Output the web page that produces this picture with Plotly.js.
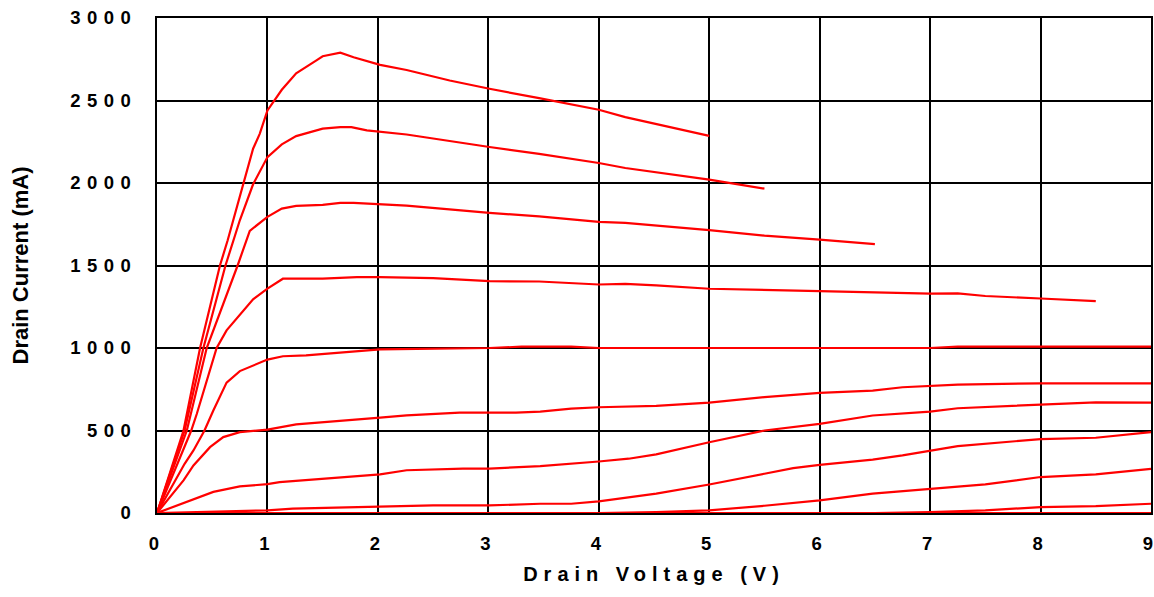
<!DOCTYPE html>
<html>
<head>
<meta charset="utf-8">
<script src="https://cdn.plot.ly/plotly-3.0.1.min.js"></script>
<style>
  html, body { margin: 0; padding: 0; background: #fff; }
  #chart { width: 1154px; height: 597px; }
  g.ytick text { letter-spacing: 6.5px; }
  text.xtitle { letter-spacing: 6px; }
</style>
</head>
<body>
<div id="chart"></div>
<script>
// Drain voltage (V) and drain current (mA) for each curve
const vd1 = [0, 0.24, 0.39, 0.57, 0.64, 0.69, 0.78, 0.87, 0.93, 1.0, 1.13, 1.26, 1.44, 1.5, 1.66, 1.78, 2.02, 2.26, 2.65, 3.01, 3.46, 4.0, 4.24, 5.0];
const id1 = [0, 500, 1000, 1500, 1653, 1774, 1996, 2208, 2298, 2440, 2565, 2665, 2742, 2768, 2790, 2762, 2716, 2685, 2621, 2571, 2514, 2444, 2399, 2286];

const vd2 = [0, 0.25, 0.42, 0.62, 0.75, 0.87, 1.0, 1.13, 1.26, 1.5, 1.66, 1.76, 1.9, 2.02, 2.26, 3.01, 3.46, 4.0, 4.24, 5.0, 5.5];
const id2 = [0, 500, 1000, 1500, 1774, 1992, 2157, 2234, 2284, 2329, 2339, 2339, 2319, 2311, 2294, 2218, 2177, 2121, 2091, 2020, 1966];

const vd3 = [0, 0.27, 0.45, 0.73, 0.84, 1.0, 1.13, 1.26, 1.5, 1.66, 1.78, 2.02, 2.26, 3.01, 3.46, 4.0, 4.24, 5.0, 5.5, 6.0, 6.5];
const id3 = [0, 500, 1000, 1500, 1710, 1795, 1845, 1861, 1867, 1879, 1879, 1869, 1863, 1819, 1798, 1764, 1758, 1714, 1681, 1657, 1629];

const vd4 = [0, 0.31, 0.36, 0.54, 0.63, 0.75, 0.81, 0.87, 1.0, 1.14, 1.5, 1.81, 2.02, 2.5, 3.01, 3.46, 4.0, 4.24, 4.52, 5.0, 6.0, 6.5, 7.0, 7.25, 7.5, 8.0, 8.5];
const id4 = [0, 500, 600, 1000, 1107, 1200, 1250, 1295, 1360, 1420, 1420, 1430, 1430, 1424, 1405, 1403, 1385, 1389, 1379, 1359, 1345, 1339, 1329, 1331, 1315, 1300, 1284];

const vd5 = [0, 0.25, 0.33, 0.43, 0.51, 0.63, 0.75, 0.87, 1.0, 1.14, 1.35, 2.02, 3.01, 3.3, 3.75, 4.0, 5.0, 6.0, 7.0, 7.25, 8.0, 9.0];
const id5 = [0, 298, 379, 500, 621, 790, 860, 895, 930, 950, 955, 992, 1000, 1008, 1008, 1000, 1000, 1000, 1000, 1008, 1008, 1008];

const vd6 = [0, 0.12, 0.24, 0.33, 0.40, 0.48, 0.60, 0.75, 1.0, 1.26, 2.02, 2.26, 2.74, 3.25, 3.47, 3.75, 4.0, 4.52, 5.0, 5.5, 6.0, 6.48, 6.75, 7.0, 7.25, 8.0, 9.0];
const id6 = [0, 97, 198, 288, 339, 399, 460, 490, 505, 537, 578, 592, 608, 608, 615, 633, 641, 649, 669, 702, 728, 742, 762, 770, 778, 786, 786];

const vd7 = [0, 0.24, 0.51, 0.75, 1.0, 1.11, 2.02, 2.26, 2.77, 3.01, 3.47, 4.0, 4.27, 4.52, 5.0, 5.5, 6.0, 6.48, 7.0, 7.25, 8.0, 8.5, 9.0];
const id7 = [0, 60, 128, 161, 175, 187, 234, 259, 269, 269, 284, 312, 329, 355, 429, 500, 540, 591, 615, 635, 657, 671, 669];

const vd8 = [0, 1.0, 1.23, 2.02, 2.5, 3.01, 3.47, 3.75, 4.0, 4.52, 5.0, 5.5, 5.76, 6.0, 6.48, 6.75, 7.0, 7.25, 8.0, 8.5, 9.0];
const id8 = [0, 16, 26, 40, 46, 46, 56, 56, 71, 117, 173, 238, 272, 292, 323, 349, 379, 405, 448, 456, 490];

const vd9 = [0, 4.0, 4.52, 5.0, 5.5, 6.0, 6.48, 7.0, 7.5, 8.0, 8.5, 9.0];
const id9 = [0, 0, 6, 16, 44, 77, 117, 147, 173, 218, 234, 268];

const vd10 = [0, 6.0, 6.5, 7.0, 7.5, 8.0, 8.5, 9.0];
const id10 = [0, 0, 0, 6, 16, 36, 42, 56];

const vd11 = [0, 9.0];
const id11 = [0, 0];

const xTicks = [0, 1, 2, 3, 4, 5, 6, 7, 8, 9];
const yTicks = [0, 500, 1000, 1500, 2000, 2500, 3000];

const xTitle = 'Drain Voltage (V)';
const yTitle = 'Drain Current (mA)';

const curves = [
  [vd1, id1], [vd2, id2], [vd3, id3], [vd4, id4], [vd5, id5], [vd6, id6],
  [vd7, id7], [vd8, id8], [vd9, id9], [vd10, id10], [vd11, id11]
];

const traces = curves.map(c => ({
  x: c[0], y: c[1], type: 'scatter', mode: 'lines',
  line: { color: '#ff0000', width: 2.2 },
  hoverinfo: 'skip', showlegend: false, cliponaxis: false
}));

const fontFam = '"Liberation Sans", Arial, sans-serif';

const layout = {
  width: 1154, height: 597,
  margin: { l: 157, r: 3, t: 18, b: 84 },
  paper_bgcolor: '#ffffff', plot_bgcolor: '#ffffff',
  font: { family: fontFam, color: '#000', size: 18.5, weight: 'bold' },
  showlegend: false,
  xaxis: {
    range: [0, 9], tickvals: xTicks, ticktext: xTicks.map(String),
    showgrid: true, gridcolor: '#000', gridwidth: 2,
    showline: true, linecolor: '#000', linewidth: 2, mirror: true,
    zeroline: false, ticks: '', ticklabelstandoff: 13, ticklabeloverflow: 'allow',
    ticklabelshift: -3,
    tickfont: { family: fontFam, size: 18.5, color: '#000', weight: 'bold' },
    title: { text: xTitle, standoff: 14, font: { family: fontFam, size: 20, color: '#000', weight: 'bold' } },
    automargin: false, fixedrange: true
  },
  yaxis: {
    range: [0, 3000], tickvals: yTicks, ticktext: yTicks.map(String),
    showgrid: true, gridcolor: '#000', gridwidth: 2,
    showline: true, linecolor: '#000', linewidth: 2, mirror: true,
    zeroline: false, ticks: '', ticklabelstandoff: 14, ticklabeloverflow: 'allow',
    tickfont: { family: fontFam, size: 18.5, color: '#000', weight: 'bold' },
    title: { text: yTitle, standoff: 35, font: { family: fontFam, size: 22, color: '#000', weight: 'bold' } },
    automargin: false, fixedrange: true
  }
};

Plotly.newPlot('chart', traces, layout, { staticPlot: true, displayModeBar: false });
</script>
</body>
</html>
